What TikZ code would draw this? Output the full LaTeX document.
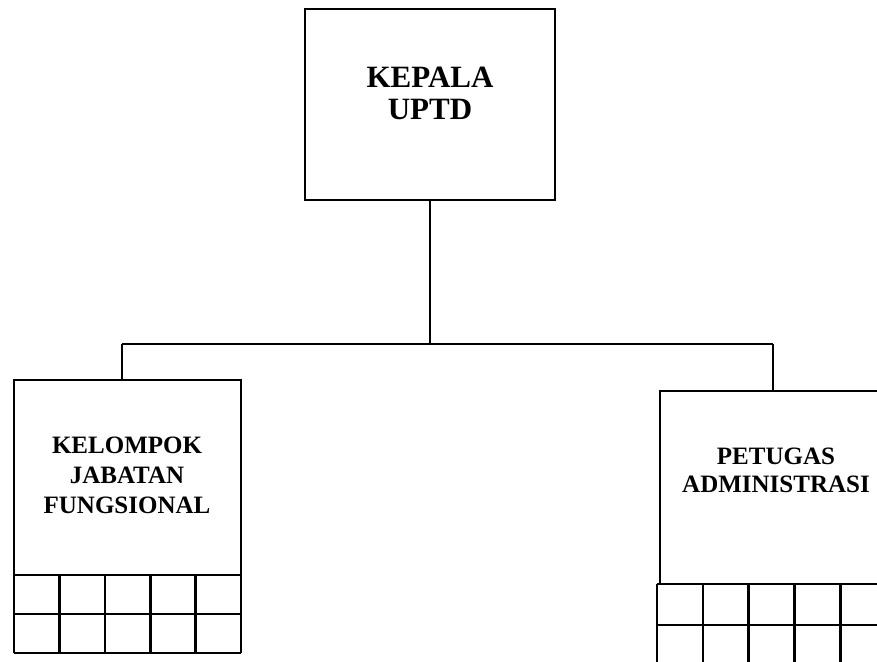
\documentclass[tikz,border=0pt]{standalone}
\usepackage{fontspec}
\setmainfont{Liberation Serif}
\begin{document}
\begin{tikzpicture}[x=0.5pt,y=-0.5pt,
    unit/.style={draw, line width=1pt, inner sep=0pt},
    bigtitle/.style={font=\bfseries\fontsize{15.5}{16}\selectfont, align=center},
    title/.style={font=\bfseries\fontsize{12.5}{15}\selectfont, align=center},
    link/.style={line width=1pt},
    cell/.style={line width=1.3pt}]
    % Frame
    \useasboundingbox (0,0) rectangle (877,661);
    \clip (0,0) rectangle (877,661);

    % Kepala UPTD
    \node[unit, minimum width=125pt, minimum height=95.5pt] (kepala) at (430,104.5) {};
    \node[bigtitle] (kepalatxt) at (430,93.5) {KEPALA\\UPTD};

    % Kelompok jabatan fungsional
    \node[unit, minimum width=113.5pt, minimum height=97.5pt] (kjf) at (127.5,477.5) {};
    \node[title] (kjftxt) at (127,475) {KELOMPOK\\JABATAN\\FUNGSIONAL};

    % Petugas administrasi
    \node[unit, minimum width=113pt, minimum height=96.5pt] (petugas) at (773,487.5) {};
    \node[title, font=\bfseries\fontsize{12.5}{14}\selectfont] (petugastxt) at (776,470) {PETUGAS\\ADMINISTRASI};

    % Lines
    \coordinate (jl) at (122,344);
    \coordinate (jr) at (773,344);
    \draw[link] (kepala.south) -- (kepala.south |- jl);
    \draw[link] (jl) -- (jr);
    \draw[link] (jl) -- (jl |- kjf.north);
    \draw[link] (jr) -- (petugas.north);

    % Grid under each box
    \foreach \i in {0,...,5}
        \draw[cell] ({14+45.4*\i},575) -- ({14+45.4*\i},653);
    \foreach \j in {575,614,653}
        \draw[cell] (14,\j) -- (241,\j);
    \foreach \i in {0,...,5}
        \draw[cell] ({657+45.8*\i},584) -- ({657+45.8*\i},670);
    \foreach \j in {584,625}
        \draw[cell] (657,\j) -- (890,\j);

\end{tikzpicture}
\end{document}
